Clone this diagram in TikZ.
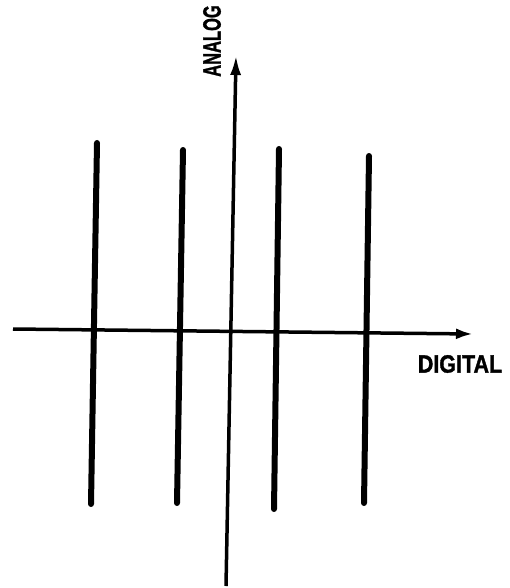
\documentclass[tikz,border=0pt]{standalone}
\usepackage{fontspec}
\setmainfont{Liberation Sans}[BoldFeatures={FakeBold=1.5}]
\usetikzlibrary{arrows.meta}
\begin{document}
\begin{tikzpicture}[x=1pt,y=-1pt,
  axisline/.style={line width=3.5pt},
  barline/.style={line width=6pt,line cap=round},
  lbl/.style={font=\bfseries\fontsize{25}{25}\selectfont,inner sep=0pt}]
\useasboundingbox (0,0) rectangle (510,588);
% axes
\coordinate (hL) at (13,329);
\coordinate (hR) at (473,334);
\coordinate (vB) at (226,586);
\coordinate (vT) at (236,55);
\draw[axisline,-{Latex[length=17pt,width=11pt]}] (hL) -- (hR);
\draw[axisline,-{Latex[length=20pt,width=11pt]}] (vB) -- (vT);
% bars
\coordinate (a1) at (97,143); \coordinate (b1) at (91,504);
\coordinate (a2) at (183,150); \coordinate (b2) at (177,503);
\coordinate (a3) at (279,149); \coordinate (b3) at (274,509);
\coordinate (a4) at (369,156); \coordinate (b4) at (364,503);
\draw[barline] (a1) -- (b1);
\draw[barline] (a2) -- (b2);
\draw[barline] (a3) -- (b3);
\draw[barline] (a4) -- (b4);
% labels
\node[lbl,rotate=90] (analog) at (212,41) {\scalebox{0.66}[1]{ANALOG}};
\node[lbl] (digital) at (460,364) {\scalebox{0.86}[1]{DIGITAL}};
\end{tikzpicture}
\end{document}
